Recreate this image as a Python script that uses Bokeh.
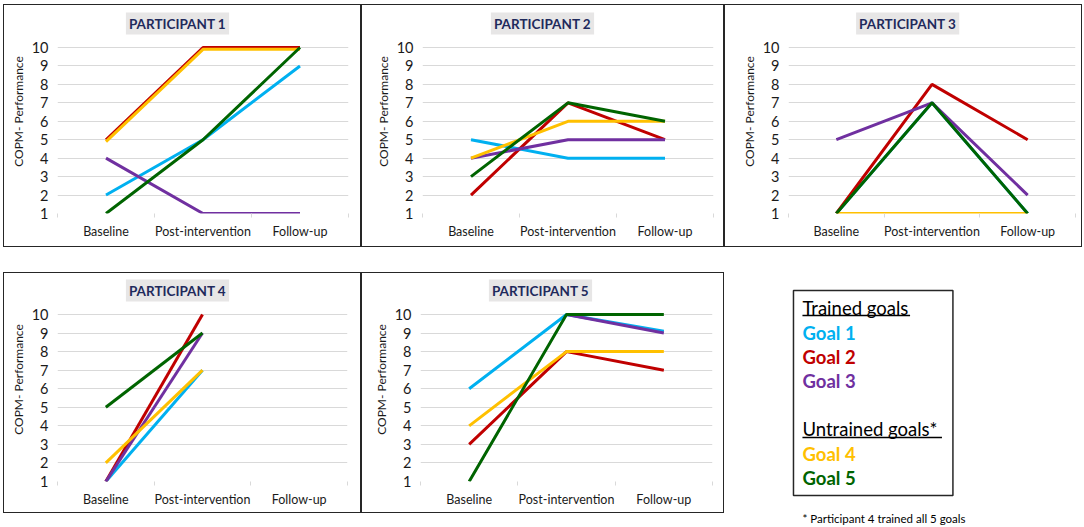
from bokeh.plotting import figure
from bokeh.models import Range1d, FixedTicker, Label, Spacer, ColumnDataSource
from bokeh.layouts import column, row
from bokeh.embed import file_html
from bokeh.resources import INLINE
from bokeh.core.properties import value

nan = float("nan")

timepoints = ["Baseline", "Post-intervention", "Follow-up"]
y_ticks = [1, 2, 3, 4, 5, 6, 7, 8, 9, 10]
y_label = "COPM- Performance"
goal_labels = ["Goal 1", "Goal 2", "Goal 3", "Goal 4", "Goal 5"]
goal_colors = ["#00B0F0", "#C00000", "#7030A0", "#FFC000", "#006400"]
panel_titles = ["PARTICIPANT 1", "PARTICIPANT 2", "PARTICIPANT 3",
                "PARTICIPANT 4", "PARTICIPANT 5"]

# values per participant: goal 1..5, each [baseline, post, follow-up]
p1_goal1 = [2, 5, 9]
p1_goal2 = [5, 10, 10]
p1_goal3 = [4, 1, 1]
p1_goal4 = [4.9, 9.9, 9.9]
p1_goal5 = [1, 5, 10]

p2_goal1 = [5, 4, 4]
p2_goal2 = [2, 7, 5]
p2_goal3 = [4, 5, 5]
p2_goal4 = [4, 6, 6]
p2_goal5 = [3, 7, 6]

p3_goal1 = [1, 7, 1]
p3_goal2 = [1, 8, 5]
p3_goal3 = [5, 7, 2]
p3_goal4 = [1, 1, 1]
p3_goal5 = [1, 7, 1]

p4_goal1 = [1, 7, nan]
p4_goal2 = [1, 10, nan]
p4_goal3 = [1, 9, nan]
p4_goal4 = [2, 7, nan]
p4_goal5 = [5, 9, nan]

p5_goal1 = [6, 10, 9.1]
p5_goal2 = [3, 8, 7]
p5_goal3 = [nan, 10, 9]
p5_goal4 = [4, 8, 8]
p5_goal5 = [1, 10, 10]

participants = [
    [p1_goal1, p1_goal2, p1_goal3, p1_goal4, p1_goal5],
    [p2_goal1, p2_goal2, p2_goal3, p2_goal4, p2_goal5],
    [p3_goal1, p3_goal2, p3_goal3, p3_goal4, p3_goal5],
    [p4_goal1, p4_goal2, p4_goal3, p4_goal4, p4_goal5],
    [p5_goal1, p5_goal2, p5_goal3, p5_goal4, p5_goal5],
]

legend_head1 = "Trained goals"
legend_head2 = "Untrained goals*"
footnote = "* Participant 4 trained all 5 goals"

FONT = "Lato"
GRID = "#D9D9D9"
TXT = "#1a1a1a"
BORDER = {"border": "1.5px solid #262626"}
YMIN, YMAX = 1, 10
TOP_PAD = 4  # frame starts this far below the panel's top border

# panel geometry: (width, height, left, right, top-of-scale, bottom borders)
geoms = [
    (358, 243, 53, 14, 42, 35),
    (363, 243, 60, 12, 42, 35),
    (358, 243, 61, 8, 42, 35),
    (358, 241, 53, 15, 41, 33),
    (363, 241, 58, 13, 41, 33),
]


def make_panel(title, series, geom):
    W, H, bl, br, bt, bb = geom
    n = len(timepoints)
    xs = [i + 0.5 for i in range(n)]
    frame_w = W - bl - br
    frame_h = H - TOP_PAD - bb
    extra = bt - TOP_PAD                      # pixels of frame above the "10" line
    per_px = (YMAX - YMIN) / (frame_h - extra)
    y_end = YMAX + extra * per_px
    p = figure(width=W, height=H, output_backend="svg", toolbar_location=None,
               x_range=Range1d(0, n), y_range=Range1d(YMIN, y_end),
               min_border_left=bl, min_border_right=br, min_border_top=TOP_PAD,
               min_border_bottom=bb, styles=BORDER)
    p.outline_line_color = None
    p.xgrid.grid_line_color = None
    p.ygrid.grid_line_color = GRID
    p.ygrid.ticker = FixedTicker(ticks=y_ticks)

    xa = p.xaxis[0]
    xa.ticker = FixedTicker(ticks=xs, minor_ticks=list(range(n + 1)))
    xa.major_label_overrides = {x: t for x, t in zip(xs, timepoints)}
    xa.axis_line_color = None
    xa.major_tick_line_color = None
    xa.major_tick_out = 0
    xa.major_tick_in = 0
    xa.minor_tick_line_color = GRID
    xa.minor_tick_out = 4
    xa.minor_tick_in = 0
    xa.major_label_standoff = 6
    xa.major_label_text_font = FONT
    xa.major_label_text_font_size = "12.5px"
    xa.major_label_text_color = TXT

    ya = p.yaxis[0]
    ya.ticker = FixedTicker(ticks=y_ticks)
    ya.axis_line_color = None
    ya.major_tick_line_color = None
    ya.minor_tick_line_color = None
    ya.major_tick_out = 0
    ya.major_tick_in = 0
    ya.major_label_standoff = 9
    ya.major_label_text_font = FONT
    ya.major_label_text_font_size = "14.5px"
    ya.major_label_text_color = TXT
    ya.axis_label = y_label
    ya.axis_label_text_font = FONT
    ya.axis_label_text_font_style = "normal"
    ya.axis_label_text_font_size = "12px"
    ya.axis_label_text_color = TXT
    ya.axis_label_standoff = 3

    # panel heading: 120px right of the frame's left edge, 24px above the top line
    tx = 120 / frame_w * n
    ty = YMAX + 24 * per_px
    p.add_layout(Label(x=tx, y=ty, text=title, text_align="center",
                       text_baseline="middle", text_font=FONT,
                       text_font_size="13.5px", text_font_style="bold",
                       text_color="#1F2A5C", background_fill_color="#E7E6E6",
                       padding=3))

    for vals, color in zip(series, goal_colors):
        p.line(xs, vals, line_color=color, line_width=3)
    return p


panels = [make_panel(t, s, g) for t, s, g in zip(panel_titles, participants, geoms)]

# legend panel: data units equal pixels (x from its left edge, y up from its bottom)
LW, LH = 358, 254
LL, LR = 63, 7
leg = figure(width=LW, height=LH, output_backend="svg", toolbar_location=None,
             title=None, x_axis_location=None, y_axis_location=None,
             x_range=Range1d(LL, LW - LR), y_range=Range1d(0, LH),
             min_border_left=LL, min_border_right=LR,
             min_border_top=0, min_border_bottom=0)
leg.grid.visible = False
leg.outline_line_color = None

leg.quad(left=69, right=229, top=236, bottom=31,
         fill_color=None, line_color="#262626", line_width=1.5)

head_src = ColumnDataSource(dict(x=[78, 78], y=[219, 98],
                                 text=[legend_head1, legend_head2]))
leg.text(x="x", y="y", text="text", source=head_src, text_font=value(FONT),
         text_font_size="18.5px", text_color="#000000",
         text_baseline="middle", text_align="left")
leg.segment(x0=[78, 78], y0=[211, 89], x1=[186, 218], y1=[211, 89],
            line_color="#000000", line_width=1.3)

goal_src = ColumnDataSource(dict(x=[78] * 5, y=[194, 170, 146, 73, 49],
                                 text=goal_labels, color=goal_colors))
leg.text(x="x", y="y", text="text", source=goal_src, text_font=value(FONT),
         text_font_size="18.5px", text_font_style="bold", text_color="color",
         text_baseline="middle", text_align="left")

leg.text(x=[78], y=[8], text=[footnote], text_font=value(FONT),
         text_font_size="11.5px", text_color="#000000",
         text_baseline="middle", text_align="left")

col_a = column(row(panels[0], panels[1], spacing=0),
               Spacer(height=25),
               row(panels[3], panels[4], spacing=0), spacing=0)
col_b = column(panels[2], Spacer(height=25), leg, spacing=0)

layout = column(Spacer(height=4),
                row(Spacer(width=3), col_a, col_b, spacing=0),
                spacing=0)

open("out.html", "w").write(file_html(layout, INLINE))
